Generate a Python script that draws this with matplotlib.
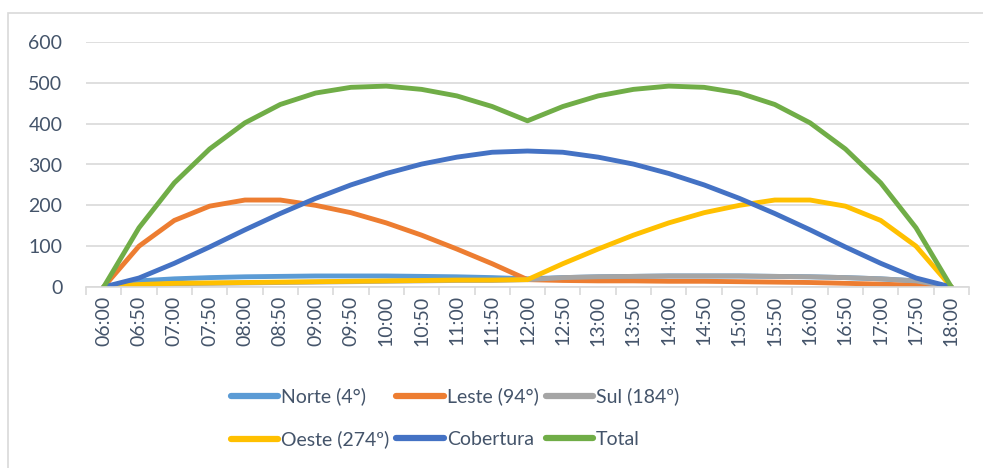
import matplotlib.pyplot as plt
from matplotlib.lines import Line2D
from matplotlib.patches import Rectangle

# horarios (06:00 .. 18:00)
horas = ['06:00', '06:50', '07:00', '07:50', '08:00', '08:50', '09:00', '09:50',
         '10:00', '10:50', '11:00', '11:50', '12:00', '12:50', '13:00', '13:50',
         '14:00', '14:50', '15:00', '15:50', '16:00', '16:50', '17:00', '17:50', '18:00']

norte = [0, 15, 20, 23, 25, 26, 27, 27, 27, 26, 25, 23, 20,
         23, 25, 26, 27, 27, 27, 26, 25, 23, 20, 15, 0]
leste = [0, 100, 163, 198, 213, 213, 200, 182, 157, 127, 93, 57, 18,
         16, 15, 15, 14, 14, 13, 12, 11, 9, 7, 4, 0]
sul = [0, 5, 8, 9, 10, 11, 12, 13, 14, 15, 16, 16, 18,
       23, 25, 26, 27, 27, 27, 26, 25, 23, 20, 15, 0]
oeste = [0, 6, 9, 10, 11, 12, 13, 14, 15, 16, 17, 17, 18,
         57, 93, 127, 157, 182, 200, 213, 213, 198, 163, 100, 0]
cobertura = [0, 22, 58, 98, 140, 180, 217, 250, 278, 301, 318, 330, 333,
             330, 318, 301, 278, 250, 217, 180, 140, 98, 58, 22, 0]
total = [0, 145, 255, 338, 402, 447, 475, 489, 492, 484, 468, 442, 407,
         442, 468, 484, 492, 489, 475, 447, 402, 338, 255, 145, 0]

series = [
    ('Norte (4°)', norte, '#5B9BD5'),
    ('Leste (94°)', leste, '#ED7D31'),
    ('Sul (184º)', sul, '#A5A5A5'),
    ('Oeste (274º)', oeste, '#FFC000'),
    ('Cobertura', cobertura, '#4472C4'),
    ('Total', total, '#70AD47'),
]

txt = '#44546A'
grid = '#D9D9D9'
plt.rcParams['font.family'] = ['Lato', 'DejaVu Sans']

W, H = 983, 468
fig = plt.figure(figsize=(W / 100, H / 100), dpi=100)
ax = fig.add_axes([86 / W, (H - 287) / H, (969 - 86) / W, (287 - 42) / H])

# moldura do grafico
fig.patches.append(Rectangle((8 / W, -0.1), 1.2, (H - 13) / H + 0.1,
                             transform=fig.transFigure, fill=False,
                             edgecolor='#D9D9D9', linewidth=1.2))

x = list(range(len(horas)))
for nome, vals, cor in series:
    ax.plot(x, vals, color=cor, linewidth=3.5, solid_capstyle='round',
            solid_joinstyle='round', label=nome)

ax.set_xlim(-0.5, len(horas) - 0.5)
ax.set_ylim(0, 600)
ax.set_yticks(range(0, 601, 100))
ax.yaxis.grid(True, color=grid, linewidth=1.2)
ax.set_axisbelow(True)
for s in ['top', 'right', 'left']:
    ax.spines[s].set_visible(False)
ax.spines['bottom'].set_color(grid)
ax.spines['bottom'].set_linewidth(1.2)

ax.set_xticks(x)
ax.set_xticklabels(horas, rotation=90)
ax.set_xticks([i + 0.5 for i in range(-1, len(horas))], minor=True)
ax.tick_params(axis='x', which='major', length=0, pad=6, labelsize=14, labelcolor=txt)
ax.tick_params(axis='x', which='minor', length=6, width=1.2, color=grid)
ax.tick_params(axis='y', length=0, pad=17, labelsize=14, labelcolor=txt)

# legenda em duas linhas (ordem por linha)
handles = [Line2D([], [], color=c, linewidth=4.5, solid_capstyle='round') for _, _, c in series]
labels = [n for n, _, _ in series]
ordem = [0, 3, 1, 4, 2, 5]
leg = fig.legend([handles[i] for i in ordem], [labels[i] for i in ordem],
                 ncol=3, loc='center', bbox_to_anchor=(455 / W, 1 - 418 / H),
                 frameon=False, fontsize=14, handlelength=2.45, handletextpad=0.15,
                 columnspacing=0.35, labelspacing=1.3)
for t in leg.get_texts():
    t.set_color(txt)

fig.savefig('out.png', dpi=100)
